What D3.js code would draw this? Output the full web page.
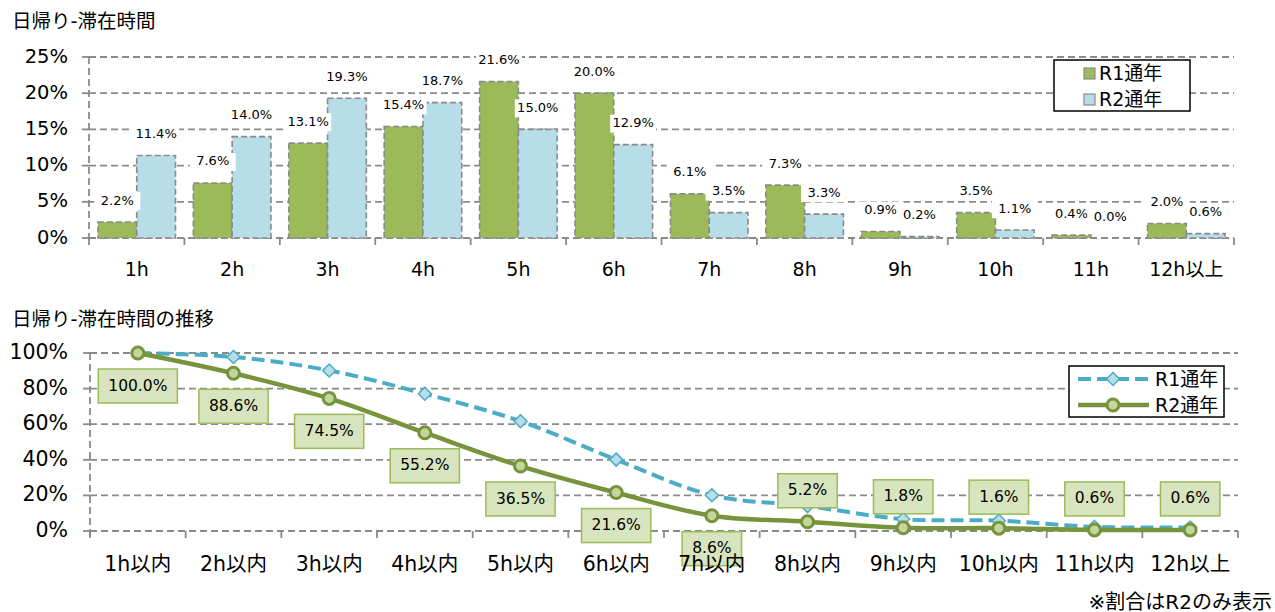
<!DOCTYPE html>
<html>
<head>
<meta charset="utf-8">
<script src="https://cdn.jsdelivr.net/npm/d3@7"></script>
<style>
body { margin: 0; background: #fff; }
text { font-family: "DejaVu Sans", "Noto Sans CJK JP", sans-serif; fill: #000; }
</style>
</head>
<body>
<svg id="chart" width="1275" height="612"></svg>
<script>
// top chart: share by stay duration
var hours = ["1h", "2h", "3h", "4h", "5h", "6h", "7h", "8h", "9h", "10h", "11h", "12h以上"];
var r1Share = [2.2, 7.6, 13.1, 15.4, 21.6, 20.0, 6.1, 7.3, 0.9, 3.5, 0.4, 2.0];
var r2Share = [11.4, 14.0, 19.3, 18.7, 15.0, 12.9, 3.5, 3.3, 0.2, 1.1, 0.0, 0.6];
var topTicks = [0, 5, 10, 15, 20, 25];

// bottom chart: remaining share
var hoursWithin = ["1h以内", "2h以内", "3h以内", "4h以内", "5h以内", "6h以内", "7h以内", "8h以内", "9h以内", "10h以内", "11h以内", "12h以上"];
var r1Remain = [100, 97.8, 90.2, 77.1, 61.7, 40.1, 20.1, 14.0, 6.7, 5.8, 2.3, 2.0];
var r2Remain = [100.0, 88.6, 74.5, 55.2, 36.5, 21.6, 8.6, 5.2, 1.8, 1.6, 0.6, 0.6];
var bottomTicks = [0, 20, 40, 60, 80, 100];

var seriesNames = ["R1通年", "R2通年"];

var grey = "#8a8a8a";
var dash = "7,4";

var svg = d3.select("#chart");

// ---------- top chart ----------
var x = d3.scaleBand().domain(hours).range([89, 1234]);
var sub = d3.scaleBand().domain([0, 1]).range([0, x.bandwidth()]).paddingInner(0).paddingOuter(0.23);
var y = d3.scaleLinear().domain([0, 25]).range([238, 57]);

svg.append("text").attr("x", 12).attr("y", 22).attr("dominant-baseline", "middle")
    .style("font-size", "19.5px").text("日帰り-滞在時間");

var topG = svg.append("g");

topG.selectAll(".grid").data(topTicks).enter().append("line")
    .attr("x1", 89).attr("x2", 1234)
    .attr("y1", d => y(d)).attr("y2", d => y(d))
    .attr("stroke", grey).attr("stroke-width", 1.8).attr("stroke-dasharray", dash);

topG.append("line").attr("x1", 89).attr("x2", 89).attr("y1", 57).attr("y2", 245)
    .attr("stroke", grey).attr("stroke-width", 1.8).attr("stroke-dasharray", dash);

topG.selectAll(".ytick").data(topTicks).enter().append("line")
    .attr("x1", 82).attr("x2", 89).attr("y1", d => y(d)).attr("y2", d => y(d))
    .attr("stroke", grey).attr("stroke-width", 1.8);

topG.selectAll(".xtick").data(hours.concat(["end"])).enter().append("line")
    .attr("x1", (d, i) => 89 + i * x.step()).attr("x2", (d, i) => 89 + i * x.step())
    .attr("y1", 238).attr("y2", 245)
    .attr("stroke", grey).attr("stroke-width", 1.8);

topG.selectAll(".ylab").data(topTicks).enter().append("text")
    .attr("x", 68).attr("y", d => y(d)).attr("text-anchor", "end").attr("dominant-baseline", "middle")
    .style("font-size", "19.5px").text(d => d + "%");

topG.selectAll(".xlab").data(hours).enter().append("text")
    .attr("x", d => x(d) + x.bandwidth() / 2).attr("y", 270)
    .attr("text-anchor", "middle").attr("dominant-baseline", "middle")
    .style("font-size", "19px").text(d => d);

var barColors = ["#9bbb59", "#b7dde8"];
var barSeries = [r1Share, r2Share];

barSeries.forEach(function(vals, s) {
    topG.selectAll(".bar" + s).data(vals).enter().append("rect")
        .attr("x", (d, i) => x(hours[i]) + sub(s))
        .attr("y", d => y(d))
        .attr("width", sub.bandwidth())
        .attr("height", d => y(0) - y(d))
        .attr("fill", barColors[s])
        .attr("stroke", grey).attr("stroke-width", 1.6).attr("stroke-dasharray", "6,3");
});

barSeries.forEach(function(vals, s) {
    var g = topG.selectAll(".lab" + s).data(vals).enter().append("g")
        .attr("transform", (d, i) => "translate(" + (x(hours[i]) + sub(s) + sub.bandwidth() / 2) + "," + (y(d) - 21) + ")");
    g.append("rect").attr("x", -23).attr("y", -9).attr("width", 46).attr("height", 18).attr("fill", "#fff");
    g.append("text").attr("text-anchor", "middle").attr("dominant-baseline", "middle")
        .style("font-size", "13px").text(d => d.toFixed(1) + "%");
});

// legend top
var leg1 = svg.append("g");
leg1.append("rect").attr("x", 1054).attr("y", 60).attr("width", 136).attr("height", 51)
    .attr("fill", "#fff").attr("stroke", "#000").attr("stroke-width", 1.5);
seriesNames.forEach(function(name, i) {
    leg1.append("rect").attr("x", 1084).attr("y", 68 + i * 26).attr("width", 11).attr("height", 11)
        .attr("fill", barColors[i]).attr("stroke", grey).attr("stroke-width", 1.2);
    leg1.append("text").attr("x", 1099).attr("y", 74 + i * 26).attr("dominant-baseline", "middle")
        .style("font-size", "19px").text(name);
});

// ---------- bottom chart ----------
var x2 = d3.scaleBand().domain(hoursWithin).range([90, 1238]);
var y2 = d3.scaleLinear().domain([0, 100]).range([531, 353]);
var cx = (d, i) => x2(hoursWithin[i]) + x2.bandwidth() / 2;

svg.append("text").attr("x", 12).attr("y", 320).attr("dominant-baseline", "middle")
    .style("font-size", "19.5px").text("日帰り-滞在時間の推移");

var botG = svg.append("g");

botG.selectAll(".grid").data(bottomTicks).enter().append("line")
    .attr("x1", 90).attr("x2", 1238)
    .attr("y1", d => y2(d)).attr("y2", d => y2(d))
    .attr("stroke", grey).attr("stroke-width", 1.8).attr("stroke-dasharray", dash);

botG.append("line").attr("x1", 90).attr("x2", 90).attr("y1", 353).attr("y2", 538)
    .attr("stroke", grey).attr("stroke-width", 1.8).attr("stroke-dasharray", dash);

botG.selectAll(".ytick").data(bottomTicks).enter().append("line")
    .attr("x1", 83).attr("x2", 90).attr("y1", d => y2(d)).attr("y2", d => y2(d))
    .attr("stroke", grey).attr("stroke-width", 1.8);

botG.selectAll(".xtick").data(hoursWithin.concat(["end"])).enter().append("line")
    .attr("x1", (d, i) => 90 + i * x2.step()).attr("x2", (d, i) => 90 + i * x2.step())
    .attr("y1", 531).attr("y2", 538)
    .attr("stroke", grey).attr("stroke-width", 1.8);

botG.selectAll(".ylab").data(bottomTicks).enter().append("text")
    .attr("x", 68).attr("y", d => y2(d)).attr("text-anchor", "end").attr("dominant-baseline", "middle")
    .style("font-size", "20.5px").text(d => d + "%");

var line = d3.line().x(cx).y(d => y2(d)).curve(d3.curveCatmullRom.alpha(0.5));

botG.append("path").datum(r1Remain).attr("d", line)
    .attr("fill", "none").attr("stroke", "#4bacc6").attr("stroke-width", 4).attr("stroke-dasharray", "13,6");

botG.selectAll(".dia").data(r1Remain).enter().append("path")
    .attr("d", "M0,-6.5L6.5,0L0,6.5L-6.5,0Z")
    .attr("transform", (d, i) => "translate(" + cx(d, i) + "," + y2(d) + ")")
    .attr("fill", "#b7dde8").attr("stroke", "#4bacc6").attr("stroke-width", 1.5);

botG.append("path").datum(r2Remain).attr("d", line)
    .attr("fill", "none").attr("stroke", "#77933c").attr("stroke-width", 4.5);

botG.selectAll(".dot").data(r2Remain).enter().append("circle")
    .attr("cx", cx).attr("cy", d => y2(d)).attr("r", 6)
    .attr("fill", "#c3d69b").attr("stroke", "#77933c").attr("stroke-width", 3);

// data labels for R2 only
var lab = botG.selectAll(".lab").data(r2Remain).enter().append("g")
    .attr("transform", (d, i) => "translate(" + cx(d, i) + "," + (y2(d) + (i < 7 ? 33 : -31)) + ")");
lab.append("text").attr("text-anchor", "middle").attr("dominant-baseline", "middle")
    .style("font-size", "15.5px").text(d => d.toFixed(1) + "%");
lab.each(function() {
    var g = d3.select(this);
    var w = g.select("text").node().getComputedTextLength() + 20;
    g.insert("rect", "text").attr("x", -w / 2).attr("y", -17).attr("width", w).attr("height", 34)
        .attr("fill", "#d7e4bd").attr("stroke", "#9bbb59").attr("stroke-width", 1.5);
});

botG.selectAll(".xlab").data(hoursWithin).enter().append("text")
    .attr("x", cx).attr("y", 565)
    .attr("text-anchor", "middle").attr("dominant-baseline", "middle")
    .style("font-size", "20.5px").text(d => d);

// legend bottom
var leg2 = svg.append("g");
leg2.append("rect").attr("x", 1069).attr("y", 366).attr("width", 155).attr("height", 51)
    .attr("fill", "#fff").attr("stroke", "#000").attr("stroke-width", 1.5);
leg2.append("line").attr("x1", 1078).attr("x2", 1149).attr("y1", 379).attr("y2", 379)
    .attr("stroke", "#4bacc6").attr("stroke-width", 4).attr("stroke-dasharray", "13,6");
leg2.append("path").attr("d", "M0,-6.5L6.5,0L0,6.5L-6.5,0Z").attr("transform", "translate(1113,379)")
    .attr("fill", "#b7dde8").attr("stroke", "#4bacc6").attr("stroke-width", 1.5);
leg2.append("line").attr("x1", 1078).attr("x2", 1149).attr("y1", 405).attr("y2", 405)
    .attr("stroke", "#77933c").attr("stroke-width", 4.5);
leg2.append("circle").attr("cx", 1113).attr("cy", 405).attr("r", 6)
    .attr("fill", "#c3d69b").attr("stroke", "#77933c").attr("stroke-width", 3);
seriesNames.forEach(function(name, i) {
    leg2.append("text").attr("x", 1155).attr("y", 380 + i * 26).attr("dominant-baseline", "middle")
        .style("font-size", "19px").text(name);
});

svg.append("text").attr("x", 1272).attr("y", 603).attr("text-anchor", "end").attr("dominant-baseline", "middle")
    .style("font-size", "20px").text("※割合はR2のみ表示");
</script>
</body>
</html>
